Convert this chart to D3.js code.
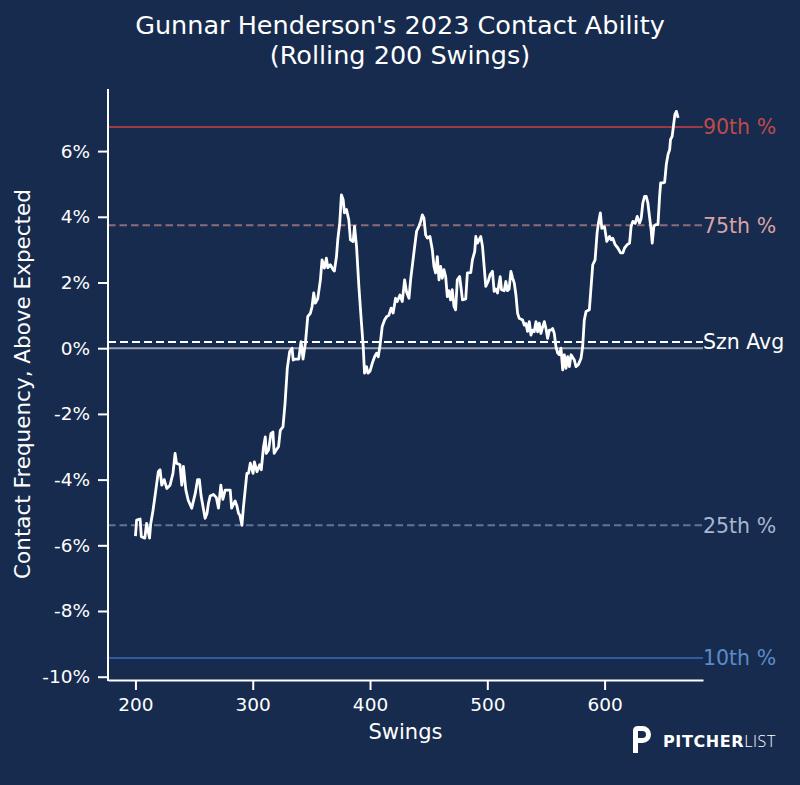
<!DOCTYPE html>
<html>
<head>
  <meta charset="utf-8">
  <title>Contact Ability</title>
  <script src="https://d3js.org/d3.v7.min.js"></script>
  <style>
    body { margin: 0; background: #172b4e; }
    svg { display: block; }
  </style>
</head>
<body>
<script>
// rolling contact frequency above expected (%)
var swings = [200, 201, 204, 205, 208, 209.5, 212, 213, 215, 217, 219.5, 221, 222.4, 224.5, 226.7, 229.5,
  232, 233.8, 235, 238, 239.5, 240.9, 243, 245, 248, 251, 253, 254.5, 256, 259.4, 261, 262.2, 263.7,
  266.5, 269, 270.8, 272.8, 274.5, 276.5, 279.3, 280.8, 282, 285, 286.5, 287.9, 289, 290.8, 292, 295,
  296.4, 297.9, 300.3, 301.4, 303.6, 305.9, 307.3, 309.2, 310.7, 311.5, 313.5, 315.5, 317.2, 318.3,
  320, 322, 323.5, 325.8, 327.5, 329.5, 331.5, 333.5, 334.5, 336.5, 339.2, 341.2, 342.9, 344.9, 346.9,
  349.2, 350.6, 352, 353.4, 355.4, 357.7, 359.1, 361.1, 362.8, 364, 366.2, 368.5, 369.6, 371.4, 372.5,
  374.2, 375.6, 377.1, 378.2, 379.9, 381.9, 383.3, 385.6, 386.8, 388.5, 390.5, 392.5, 394.2, 395.3,
  397, 398.2, 400, 401.9, 403.9, 405.6, 407, 408.4, 410.4, 412.4, 414.1, 416, 418, 419.7, 421.8, 423.2,
  425.5, 427.5, 429.5, 431.2, 433.2, 434.6, 437.4, 439.7, 441.7, 443.2, 444.6, 446, 447.4, 448.9,
  451.1, 453.1, 454.5, 455.9, 457.4, 458.8, 460.2, 461.6, 463, 464.5, 465.9, 467.3, 468.7, 470.1,
  471.6, 473, 474.4, 476.4, 477.8, 478.8, 481.6, 483, 485.9, 487.3, 489.3, 490.2, 491.6, 493, 494.4,
  495.9, 497.3, 498.7, 500.7, 502.4, 504.4, 505.8, 507.3, 508.7, 511, 512.1, 514.4, 515.8, 517.2,
  518.6, 520.1, 521.5, 523, 524.4, 525.8, 527.2, 530.1, 531.5, 532.9, 534.3, 535.8, 537.2, 538.6, 540,
  541.5, 542.9, 544.3, 545.7, 547.2, 548.6, 550, 551.4, 552.9, 554.3, 555.7, 557.1, 558.5, 560, 561.4,
  562.8, 564.3, 565.7, 567.1, 568.5, 570, 571.4, 574.2, 575.6, 577.6, 579.9, 581.3, 582.7, 584.2, 587,
  588.5, 589.9, 591.9, 593.6, 594.8, 596.4, 597.6, 599.9, 601.9, 604.2, 605.6, 607, 609, 611.3, 613.6,
  615.6, 617, 619.3, 621.3, 622.6, 624.1, 626.1, 627.8, 629.8, 631.2, 632.6, 634.1, 635.5, 636.9,
  638.3, 639.7, 640.6, 642, 643.5, 645.5, 646.9, 647.8, 649.8, 651.2, 652.6, 654.1, 655.5, 656.2,
  657.6, 658.7, 659.9, 661.2, 662.7];
var contact = [-5.72, -5.23, -5.2, -5.74, -5.78, -5.33, -5.78, -5.35, -4.93, -4.42, -3.76, -3.7, -4.17, -4.0, -4.27, -4.17,
  -3.81, -3.2, -3.5, -3.55, -4.17, -3.6, -4.32, -4.63, -4.87, -4.42, -4.0, -4.0, -4.5, -5.18, -5.03, -4.73, -4.5,
  -4.45, -4.55, -4.87, -4.17, -4.6, -4.32, -4.32, -4.32, -4.87, -4.65, -4.8, -5.03, -5.08, -5.39, -4.87, -3.81,
  -3.81, -3.5, -3.81, -3.46, -3.76, -3.55, -3.7, -3.0, -2.7, -3.2, -3.1, -2.6, -2.55, -3.2,
  -3.1, -3.0, -2.5, -2.39, -1.7, -0.6, -0.1, 0.0, -0.36, -0.33, -0.33, 0.2, -0.33, 0.15, 0.96,
  1.07, 1.27, 1.68, 1.37, 1.5, 2.08, 2.69, 2.44, 2.74, 2.45, 2.54, 2.39, 2.35, 2.79, 3.3,
  3.81, 4.67, 4.52, 4.12, 4.22, 3.91, 3.3, 3.25, 3.71, 3.1, 1.88, 0.86, 0.05, -0.76,
  -0.56, -0.76, -0.7, -0.46, -0.26, -0.15, -0.26, 0.05, 0.66, 0.86, 0.96, 1.0, 1.22, 1.07, 1.52, 1.42,
  1.62, 1.42, 2.08, 1.7, 1.52, 2.08, 2.9, 3.56, 3.71, 3.86, 4.06, 3.96, 3.45, 3.35,
  3.4, 3.0, 2.49, 2.29, 2.79, 2.08, 2.49, 2.13, 2.39, 2.18, 1.57, 1.75, 1.47, 1.78,
  1.27, 1.17, 2.08, 2.18, 1.78, 1.47, 1.5, 2.29, 2.3, 2.69, 2.95, 3.4, 3.2, 3.3, 3.4,
  3.1, 2.49, 1.88, 2.03, 2.24, 2.34, 1.73, 1.8, 1.68, 2.18, 1.78, 1.75, 2.03, 1.75,
  1.8, 2.34, 2.15, 1.98, 1.62, 1.07, 0.91, 0.86, 0.7, 0.75, 0.51, 0.81, 0.4, 0.55, 0.5,
  0.81, 0.5, 0.76, 0.45, 0.65, 0.81, 0.6, 0.3, 0.55, 0.55, 0.6, 0.45, 0.05, -0.15, -0.2,
  0.0, -0.66, -0.2, -0.61, -0.26, -0.56, -0.2, -0.36, -0.56, -0.5, -0.31, 0.05, 0.86, 1.12, 1.17,
  1.88, 2.54, 2.69, 3.51, 3.81, 4.12, 3.65, 3.7, 3.25, 3.4, 3.3, 3.35, 3.15, 3.05, 2.9,
  2.9, 3.05, 3.15, 3.2, 3.71, 3.86, 3.8, 4.01, 3.81, 3.95, 4.42, 4.62, 4.62, 4.42,
  4.0, 3.6, 3.2, 3.71, 3.76, 3.76, 4.62, 5.03, 5.03, 5.05, 5.59, 5.9, 6.05, 6.35,
  6.45, 6.76, 7.11, 7.21, 7.01];

// reference lines
var refNames = ["90th %", "75th %", "Szn Avg", "25th %", "10th %"];
var refValues = [6.73, 3.74, 0.19, -5.39, -9.43];

var xTicks = [200, 300, 400, 500, 600];
var yTicks = [-10, -8, -6, -4, -2, 0, 2, 4, 6];

var width = 800;
var height = 785;
var margin = { top: 89, right: 97, bottom: 105, left: 108 };

var refStyle = {
  "90th %":  { line: "#9b3b45", text: "#bf4a4c", dash: null },
  "75th %":  { line: "#8f6b78", text: "#d9a3a5", dash: "7.5,4" },
  "Szn Avg": { line: "#ffffff", text: "#ffffff", dash: "8,4" },
  "25th %":  { line: "#5f7496", text: "#a7b7d2", dash: "7.5,4" },
  "10th %":  { line: "#2e5d9e", text: "#5d8bc9", dash: null }
};

var svg = d3.select("body").append("svg")
  .attr("width", width).attr("height", height)
  .style("font-family", "'DejaVu Sans', sans-serif");

svg.append("rect").attr("width", width).attr("height", height).attr("fill", "#172b4e");

var xScale = d3.scaleLinear()
  .domain([176.6, 683.9])
  .range([margin.left, width - margin.right]);
var yScale = d3.scaleLinear()
  .domain([-10.1, 7.89])
  .range([height - margin.bottom, margin.top]);

// title
var title = svg.append("text")
  .attr("text-anchor", "middle")
  .attr("fill", "#ffffff")
  .attr("font-size", "25.5px");
title.append("tspan").attr("x", 400).attr("y", 34).text("Gunnar Henderson's 2023 Contact Ability");
title.append("tspan").attr("x", 400).attr("y", 64).text("(Rolling 200 Swings)");

// zero line
svg.append("line")
  .attr("x1", margin.left).attr("x2", width - margin.right)
  .attr("y1", yScale(0)).attr("y2", yScale(0))
  .attr("stroke", "#9aa2b2").attr("stroke-width", 2);

// percentile lines + labels
refNames.forEach(function(name, i) {
  var st = refStyle[name];
  svg.append("line")
    .attr("x1", margin.left).attr("x2", width - margin.right)
    .attr("y1", yScale(refValues[i])).attr("y2", yScale(refValues[i]))
    .attr("stroke", st.line)
    .attr("stroke-width", 2)
    .attr("stroke-dasharray", st.dash);
  svg.append("text")
    .attr("x", width - margin.right)
    .attr("y", yScale(refValues[i]))
    .attr("dy", "0.36em")
    .attr("fill", st.text)
    .attr("font-size", "20.5px")
    .text(name);
});

// rolling line
var points = swings.map(function(s, i) { return [s, contact[i]]; });
svg.append("path")
  .datum(points)
  .attr("fill", "none")
  .attr("stroke", "#ffffff")
  .attr("stroke-width", 2.8)
  .attr("stroke-linejoin", "round")
  .attr("d", d3.line()
    .x(function(d) { return xScale(d[0]); })
    .y(function(d) { return yScale(d[1]); }));

// axes
var axis_x = d3.axisBottom(xScale).tickValues(xTicks).tickSize(10).tickSizeOuter(0).tickPadding(8);
var axis_y = d3.axisLeft(yScale).tickValues(yTicks).tickSize(10).tickSizeOuter(0).tickPadding(8)
  .tickFormat(function(d) { return d + "%"; });

var gx = svg.append("g")
  .attr("transform", "translate(0," + (height - margin.bottom) + ")")
  .call(axis_x);
var gy = svg.append("g")
  .attr("transform", "translate(" + margin.left + ",0)")
  .call(axis_y);

[gx, gy].forEach(function(g) {
  g.selectAll("path, line").attr("stroke", "#ffffff").attr("stroke-width", 2);
  g.selectAll("text").attr("fill", "#ffffff").attr("font-size", "18.5px")
    .attr("font-family", "'DejaVu Sans', sans-serif");
});
// spine covers the full axes box
gy.select(".domain").attr("d", "M0," + margin.top + "V" + (height - margin.bottom + 1));

svg.append("text")
  .attr("x", (margin.left + width - margin.right) / 2)
  .attr("y", 739)
  .attr("text-anchor", "middle")
  .attr("fill", "#ffffff")
  .attr("font-size", "21px")
  .text("Swings");

svg.append("text")
  .attr("transform", "translate(30," + 384 + ") rotate(-90)")
  .attr("text-anchor", "middle")
  .attr("fill", "#ffffff")
  .attr("font-size", "21.5px")
  .text("Contact Frequency, Above Expected");

// logo
var logo = svg.append("g");
logo.append("path")
  .attr("d", "M633,753 V731 Q633,726 638,726 H642.5 A8.5,8.5 0 0 1 642.5,743 H638 V753 Z " +
             "M638,731 H642.5 A3.5,3.5 0 0 1 642.5,738 H638 Z")
  .attr("fill", "#ffffff")
  .attr("fill-rule", "evenodd");
var lt = logo.append("text")
  .attr("x", 663).attr("y", 746.5)
  .attr("fill", "#ffffff")
  .attr("font-size", "16px")
  .attr("letter-spacing", "0.6px");
lt.append("tspan").attr("font-weight", "bold").text("PITCHER");
lt.append("tspan").attr("font-weight", "300").attr("font-family", "'Open Sans', sans-serif").text("LIST");
</script>
</body>
</html>
